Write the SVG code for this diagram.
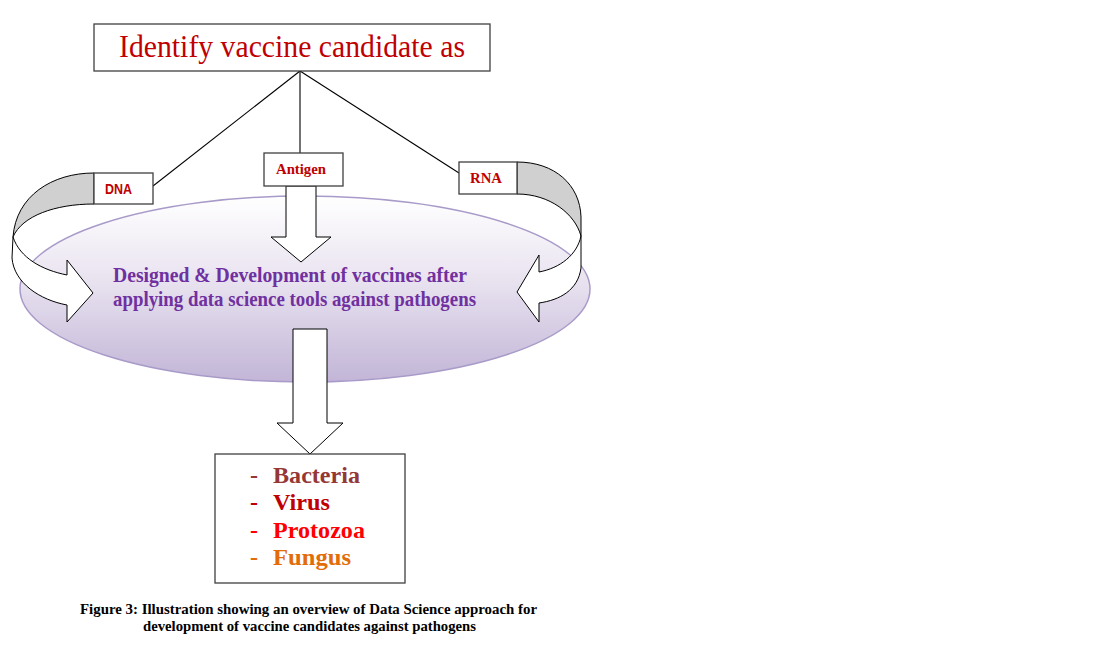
<svg xmlns="http://www.w3.org/2000/svg" width="1108" height="648" viewBox="0 0 1108 648">
<defs>
<linearGradient id="ellGrad" x1="0" y1="0" x2="0" y2="1">
<stop offset="0" stop-color="#FFFFFF"/>
<stop offset="0.45" stop-color="#E9E3F0"/>
<stop offset="1" stop-color="#C2B5D7"/>
</linearGradient>
<style>
.box{fill:#FFFFFF;stroke:#404040;stroke-width:1.3}
.ln{fill:none;stroke:#000000;stroke-width:1.1}
.blk{fill:#FFFFFF;stroke:#000000;stroke-width:1}
.grey{fill:#D0D0D0;stroke:#000000;stroke-width:1}
.serif{font-family:"Liberation Serif","Times New Roman",serif}
.b{font-weight:bold}
.red{fill:#C00000}
.purple{fill:#7030A0}
</style>
</defs>
<rect width="1108" height="648" fill="#FFFFFF"/>

<g id="center-ellipse">
<ellipse cx="305" cy="289" rx="285" ry="93" fill="url(#ellGrad)" stroke="#A99BC9" stroke-width="1.5"/>
<text class="serif b purple" x="113" y="282" font-size="21" textLength="354" lengthAdjust="spacingAndGlyphs">Designed &amp; Development of vaccines after</text>
<text class="serif b purple" x="113" y="306" font-size="21" textLength="363" lengthAdjust="spacingAndGlyphs">applying data science tools against pathogens</text>
</g>

<g id="connectors">
<line class="ln" x1="300" y1="71" x2="153" y2="186"/>
<line class="ln" x1="300" y1="71" x2="300" y2="153"/>
<line class="ln" x1="300" y1="71" x2="459" y2="173"/>
<polygon class="blk" points="286,186 316,186 316,237 331,237 301,262 271,237 286,237"/>
<polygon class="blk" points="293,329 327,329 327,423 343,423 310,454 277,423 293,423"/>
<path class="grey" d="M94,173 C52,173 16,196 13,237 C22,216 55,204 94,204 Z"/>
<path class="blk" d="M13,237 L12,258 C14,283 40,300 67,305 L67,322 L93,293 L67,260 L67,275 C42,270 20,258 13,237 Z"/>
<path class="grey" d="M517,162 C555,162 580,185 581,217 L581,236 C575,214 550,194 517,194 Z"/>
<path class="blk" d="M581,236 L581,268 C578,290 560,300 539,303 L539,322 L517,292 L539,255 L539,272 C560,268 577,255 581,236 Z"/>
</g>

<g id="top-box">
<rect class="box" x="94" y="24" width="396" height="47" stroke="#606060" stroke-width="1.5"/>
<text class="serif red" x="292" y="57" font-size="32" text-anchor="middle" textLength="346" lengthAdjust="spacingAndGlyphs">Identify vaccine candidate as</text>
</g>

<g id="dna-box">
<rect class="box" x="94" y="173" width="59" height="31"/>
<text x="105" y="194" font-family="Liberation Sans, Arial, sans-serif" font-weight="bold" font-size="14" class="red" textLength="27" lengthAdjust="spacingAndGlyphs">DNA</text>
</g>

<g id="antigen-box">
<rect class="box" x="264" y="153" width="79" height="33"/>
<text class="serif b red" x="301" y="174" font-size="15" text-anchor="middle" textLength="50" lengthAdjust="spacingAndGlyphs">Antigen</text>
</g>

<g id="rna-box">
<rect class="box" x="459" y="162" width="58" height="32"/>
<text class="serif b red" x="486" y="183" font-size="15" text-anchor="middle" textLength="32" lengthAdjust="spacingAndGlyphs">RNA</text>
</g>

<g id="pathogen-box">
<rect class="box" x="215" y="454" width="190" height="129"/>
<g class="serif b" font-size="24">
<text x="250" y="483" fill="#953735">-</text>
<text x="273" y="483" fill="#953735" textLength="87" lengthAdjust="spacingAndGlyphs">Bacteria</text>
<text x="250" y="510" fill="#C00000">-</text>
<text x="273" y="510" fill="#C00000" textLength="57" lengthAdjust="spacingAndGlyphs">Virus</text>
<text x="250" y="538" fill="#FF0000">-</text>
<text x="273" y="538" fill="#FF0000" textLength="92" lengthAdjust="spacingAndGlyphs">Protozoa</text>
<text x="250" y="565" fill="#E36C09">-</text>
<text x="273" y="565" fill="#E36C09" textLength="78" lengthAdjust="spacingAndGlyphs">Fungus</text>
</g>
</g>

<g id="caption" class="serif b" font-size="14.5" fill="#000000">
<text x="80" y="614" textLength="457" lengthAdjust="spacingAndGlyphs">Figure 3: Illustration showing an overview of Data Science approach for</text>
<text x="143" y="631" textLength="333" lengthAdjust="spacingAndGlyphs">development of vaccine candidates against pathogens</text>
</g>
</svg>
